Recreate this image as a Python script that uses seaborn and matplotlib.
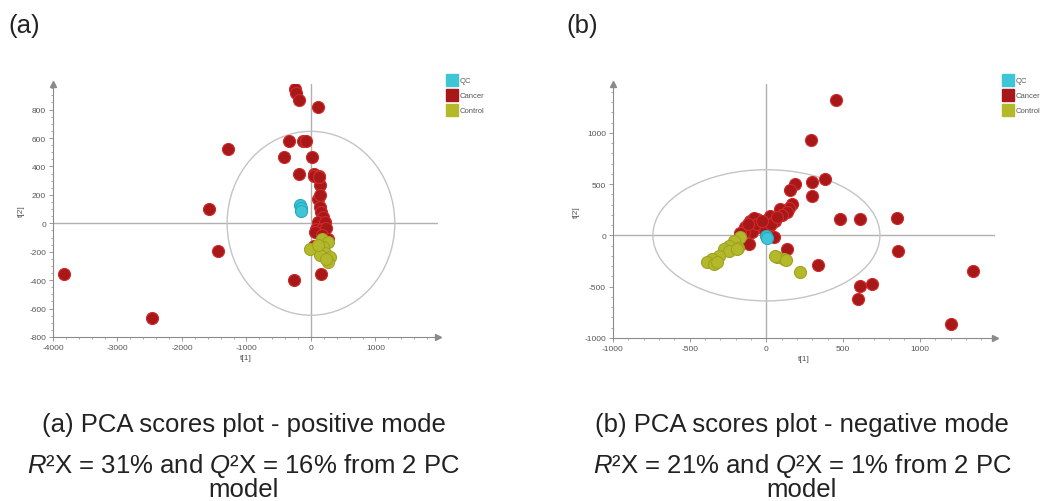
import numpy as np
import pandas as pd
import matplotlib
matplotlib.use("Agg")
import matplotlib.pyplot as plt
import seaborn as sns
from matplotlib.patches import Ellipse
from matplotlib.lines import Line2D
from matplotlib.ticker import MultipleLocator

# ---------------- data ----------------
groups = ["QC", "Cancer", "Control"]
group_colors = {"QC": "#3fc6d6", "Cancer": "#a81818", "Control": "#b4b92a"}
edge_colors = {"QC": "#27a9c2", "Cancer": "#d22a2a", "Control": "#9fa324"}

# (a) positive mode
pos_cancer_t1 = [-243, -230, -181, 114, -346, -129, -78, -1292, -419, 16, -181, 40, 52, 129, 140, 114, 140, 155,
                 191, 114, 217, 78, 165, 233, 62, 165, 269, -1576, -1447, -3824, -2465, -264, 155, 50, 120, 140]
pos_cancer_t2 = [944, 916, 867, 815, 579, 579, 579, 521, 465, 465, 348, 348, 336, 336, 266, 173, 114, 80,
                 44, 9, 9, -37, -37, -33, -61, -84, -107, 103, -196, -360, -663, -400, -360, -161, 325, 200]
pos_qc_t1 = [-175, -160, -150]
pos_qc_t2 = [130, 110, 85]
pos_control_t1 = [166, 269, 191, 88, -16, 217, 295, 269, 140, 114, 230]
pos_control_t2 = [-107, -130, -166, -177, -178, -212, -235, -270, -224, -154, -250]

# (b) negative mode
neg_cancer_t1 = [452, 289, 300, 296, 385, 185, 152, 478, 613, 852, 859, 335, 135, 607, 689, 600, 1348, 1204,
                 167, 150, 91, 135, 100, 26, 59, -61, -104, -80, -137, -39, 15, -93, -148, 48, -115, -170,
                 -60, -10, 30, 70, -120, -30]
neg_cancer_t2 = [1320, 933, 517, 387, 550, 501, 446, 159, 159, 172, -153, -289, -137, -494, -472, -624, -345, -865,
                 305, 270, 257, 224, 200, 191, 143, 159, 143, 170, 78, 78, 78, 29, 29, -20, -85, 20,
                 110, 40, 110, 180, 110, 140]
neg_qc_t1 = [0, 5]
neg_qc_t2 = [-10, -25]
neg_control_t1 = [-170, -213, -246, -278, -246, -183, -311, -354, -387, -343, -322, -191, 70, 113, 59, 130, 222]
neg_control_t2 = [-20, -53, -101, -134, -150, -120, -199, -231, -264, -280, -257, -133, -215, -231, -198, -241, -361]

x_ticks_a = [-4000, -3000, -2000, -1000, 0, 1000]
y_ticks_a = [-800, -600, -400, -200, 0, 200, 400, 600, 800]
x_ticks_b = [-1000, -500, 0, 500, 1000]
y_ticks_b = [-1000, -500, 0, 500, 1000]

captions = [("(a) PCA scores plot - positive mode",
             r"$\mathit{R}$²X = 31% and $\mathit{Q}$²X = 16% from 2 PC" + "\nmodel"),
            ("(b) PCA scores plot - negative mode",
             r"$\mathit{R}$²X = 21% and $\mathit{Q}$²X = 1% from 2 PC" + "\nmodel")]


def make_df(c1, c2, q1, q2, k1, k2):
    return pd.concat([
        pd.DataFrame({"t1": c1, "t2": c2, "group": "Cancer"}),
        pd.DataFrame({"t1": k1, "t2": k2, "group": "Control"}),
        pd.DataFrame({"t1": q1, "t2": q2, "group": "QC"}),
    ], ignore_index=True)


df_a = make_df(pos_cancer_t1, pos_cancer_t2, pos_qc_t1, pos_qc_t2, pos_control_t1, pos_control_t2)
df_b = make_df(neg_cancer_t1, neg_cancer_t2, neg_qc_t1, neg_qc_t2, neg_control_t1, neg_control_t2)

# ---------------- style ----------------
sns.set_theme(style="white")
plt.rcParams["font.family"] = ["Liberation Sans", "DejaVu Sans"]
plt.rcParams["mathtext.fontset"] = "custom"
plt.rcParams["mathtext.rm"] = "Liberation Sans"
plt.rcParams["mathtext.it"] = "Liberation Sans:italic"
plt.rcParams["axes.unicode_minus"] = False

W, H = 1046, 502
fig = plt.figure(figsize=(W / 100, H / 100), dpi=100)

axis_gray = "#8a8a8a"
line_gray = "#b0b0b0"


def panel(rect, df, xlim, ylim, xticks, yticks, xminor, yminor, ell, leg_x):
    ax = fig.add_axes(rect)
    ax.set_xlim(*xlim)
    ax.set_ylim(*ylim)
    ax.axhline(0, color=line_gray, lw=1.0, zorder=1)
    ax.axvline(0, color=line_gray, lw=1.0, zorder=1)
    ax.add_patch(Ellipse((0, 0), ell[0], ell[1], fill=False, edgecolor="#c4c4c4", lw=1.0, zorder=1))
    for g in ["Cancer", "Control", "QC"]:
        sub = df[df["group"] == g]
        sns.scatterplot(data=sub, x="t1", y="t2", color=group_colors[g], edgecolor=edge_colors[g],
                        linewidth=0.8, s=75, ax=ax, legend=False, zorder=3)
    for side in ["top", "right"]:
        ax.spines[side].set_visible(False)
    for side in ["left", "bottom"]:
        ax.spines[side].set_color(axis_gray)
        ax.spines[side].set_linewidth(0.8)
    ax.plot(1, 0, marker=">", color=axis_gray, markersize=4, transform=ax.transAxes, clip_on=False)
    ax.plot(0, 1, marker="^", color=axis_gray, markersize=4, transform=ax.transAxes, clip_on=False)
    ax.set_xticks(xticks)
    ax.set_yticks(yticks)
    ax.xaxis.set_minor_locator(MultipleLocator(xminor))
    ax.yaxis.set_minor_locator(MultipleLocator(yminor))
    ax.tick_params(which="major", direction="out", length=3, width=0.6, color=axis_gray,
                   labelsize=6, labelcolor="#555555", pad=2, bottom=True, left=True)
    ax.tick_params(which="minor", direction="out", length=1.5, width=0.5, color=axis_gray,
                   bottom=True, left=True)
    ax.set_xlabel("t[1]", fontsize=6, color="#555555", labelpad=2)
    ax.set_ylabel("t[2]", fontsize=6, color="#555555", labelpad=3)
    handles = [Line2D([], [], marker="s", linestyle="", markersize=8,
                      markerfacecolor=group_colors[g], markeredgecolor=group_colors[g]) for g in groups]
    fig.legend(handles, groups, loc="upper left", bbox_to_anchor=(leg_x, 1 - 78 / H),
               frameon=False, fontsize=5.5, handlelength=0.9, handletextpad=0.5,
               labelspacing=1.0, borderpad=0, borderaxespad=0, labelcolor="#555555")
    return ax


panel([53 / W, 1 - 338 / H, 385 / W, 253 / H], df_a, (-4000, 1970), (-800, 980),
      x_ticks_a, y_ticks_a, 200, 50, (2600, 1294), 449 / W)
panel([613 / W, 1 - 338.8 / H, 382 / W, 253.8 / H], df_b, (-1000, 1490), (-1000, 1476),
      x_ticks_b, y_ticks_b, 100, 100, (1480, 1280), 1005 / W)

# panel letters
fig.text(8 / W, 1 - 33 / H, "(a)", fontsize=18.5, va="baseline", ha="left", color="#222222")
fig.text(566 / W, 1 - 33 / H, "(b)", fontsize=18.5, va="baseline", ha="left", color="#222222")

# captions
for cx, (l1, l2) in zip([244, 802], captions):
    fig.text(cx / W, 1 - 431.7 / H, l1, fontsize=18.5, ha="center", va="baseline", color="#222222")
    fig.text(cx / W, 1 - 452 / H, l2, fontsize=18.5, ha="center", va="top", color="#222222",
             multialignment="center", linespacing=0.88)

fig.savefig("out.png", dpi=100)
